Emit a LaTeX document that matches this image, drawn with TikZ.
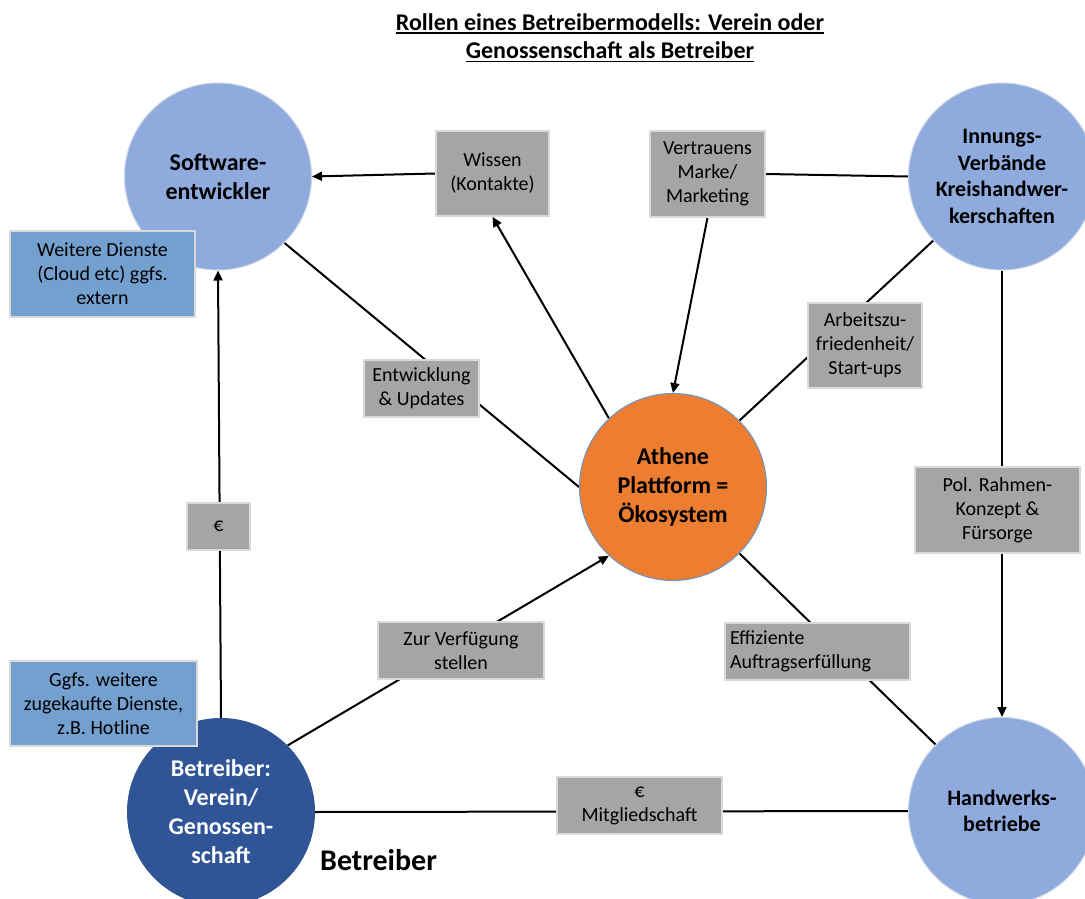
\documentclass[tikz,border=0pt]{standalone}
\usepackage{fontspec}
\setmainfont{Carlito}
\usetikzlibrary{arrows.meta}
\pgfdeclarelayer{back}
\pgfdeclarelayer{bg}
\pgfsetlayers{back,bg,main}
\definecolor{lblue}{HTML}{8FAADC}
\definecolor{dblue}{HTML}{2F5597}
\definecolor{orng}{HTML}{ED7D31}
\definecolor{gboxc}{HTML}{A5A5A5}
\definecolor{bboxc}{HTML}{74A0CF}
\definecolor{edgec}{HTML}{D9D9D9}
\definecolor{circedge}{HTML}{C9D3E6}
\definecolor{oedge}{HTML}{6A93C8}
\begin{document}
\begin{tikzpicture}[x=1pt,y=-1pt,
  circ/.style={circle,minimum size=187pt,inner sep=0pt,align=center,
    fill=lblue,draw=circedge,line width=1pt,
    font=\bfseries\fontsize{24}{29}\selectfont},
  smallcirc/.style={circ,font=\bfseries\fontsize{22}{26.5}\selectfont},
  gbox/.style={rectangle,fill=gboxc,draw=edgec,line width=1.5pt,inner sep=2pt,
    align=center,font=\fontsize{20}{24}\selectfont},
  bbox/.style={gbox,fill=bboxc},
  conn/.style={line width=2pt,draw=black},
  arr/.style={conn,-{Triangle[length=10pt,width=9pt]}},
  ttl/.style={inner sep=0pt,anchor=base,font=\bfseries\fontsize{24}{29}\selectfont}
]
\useasboundingbox (0,0) rectangle (1085,899);
\begin{pgfonlayer}{back}
\fill[white] (0,0) rectangle (1085,899);
\end{pgfonlayer}
\clip (0,0) rectangle (1085,899);

% title
\node[ttl] (t1) at (610,30.5) {Rollen eines Betreibermodells: Verein oder};
\node[ttl] (t2) at (610,59) {Genossenschaft als Betreiber};
\draw[line width=1.4pt] ([yshift=-2.5pt]t1.base west) -- ([yshift=-2.5pt]t1.base east);
\draw[line width=1.4pt] ([yshift=-2.5pt]t2.base west) -- ([yshift=-2.5pt]t2.base east);

% circles
\node[circ] (soft) at (218,176.5) {Software-\\entwickler};
\node[smallcirc] (innung) at (1002,176.5) {Innungs-\\Verbände\\Kreishandwer-\\kerschaften};
\node[circ,fill=orng,draw=oedge] (athene) at (673,487) {Athene\\Plattform =\\Ökosystem};
\node[circ,fill=dblue,draw=dblue,text=white] (betr) at (221,812) {Betreiber:\\Verein/\\Genossen-\\schaft};
\node[smallcirc] (hand) at (1002,811) {Handwerks-\\betriebe};

% boxes
\node[gbox,minimum width=113pt,minimum height=85pt] (wissen) at (492.5,173.5) {Wissen\\(Kontakte)};
\node[gbox,minimum width=115pt,minimum height=86pt] (vertr) at (707.5,174) {Vertrauens\\Marke/\\Marketing};
\node[bbox,minimum width=185pt,minimum height=86pt] (weitere) at (102.5,274) {Weitere Dienste\\(Cloud etc) ggfs.\\extern};
\node[gbox,minimum width=115pt,minimum height=57pt] (entw) at (421.5,388.5) {Entwicklung\\\&~Updates};
\node[gbox,minimum width=114pt,minimum height=85pt] (arbeit) at (865,345.5) {Arbeitszu-\\friedenheit/\\Start-ups};
\node[gbox,minimum width=63pt,minimum height=47pt] (euro) at (218.5,526.5) {€};
\node[gbox,minimum width=165pt,minimum height=86pt] (pol) at (997.5,510) {Pol. Rahmen-\\Konzept \&\\Fürsorge};
\node[gbox,minimum width=166pt,minimum height=57pt] (zur) at (461,650.5) {Zur Verfügung\\stellen};
\node[gbox,minimum width=185pt,minimum height=57pt,text width=175pt,inner sep=5pt,align=left] (effi) at (817.5,651.5) {Effiziente\\Auftragserfüllung};
\node[bbox,minimum width=187pt,minimum height=85pt] (ggfs) at (103.5,703.5) {Ggfs. weitere\\zugekaufte Dienste,\\z.B. Hotline};
\node[gbox,minimum width=165pt,minimum height=57pt] (mitg) at (639.5,805.5) {€\\Mitgliedschaft};

\node[inner sep=0pt,anchor=base west,font=\bfseries\fontsize{30}{36}\selectfont] (blabel) at (320,870) {Betreiber};

% connectors
\begin{pgfonlayer}{bg}
\draw[arr] (wissen.west) -- (soft.east);
\draw[arr] (athene.133) -- (wissen.south);
\draw[conn] (innung.west) -- (vertr.east);
\draw[arr] (vertr.south) -- (athene.north);
\draw[conn] (innung.223) -- (athene.45);
\draw[conn] (soft.-45) -- (athene.180);
\draw[arr] (betr.north) -- (soft.south);
\draw[arr] (betr.45) -- (athene.227);
\draw[conn] (athene.-45) -- (hand.135);
\draw[conn] (betr.east) -- (hand.west);
\draw[arr] (innung.south) -- (hand.north);
\end{pgfonlayer}
\end{tikzpicture}
\end{document}
